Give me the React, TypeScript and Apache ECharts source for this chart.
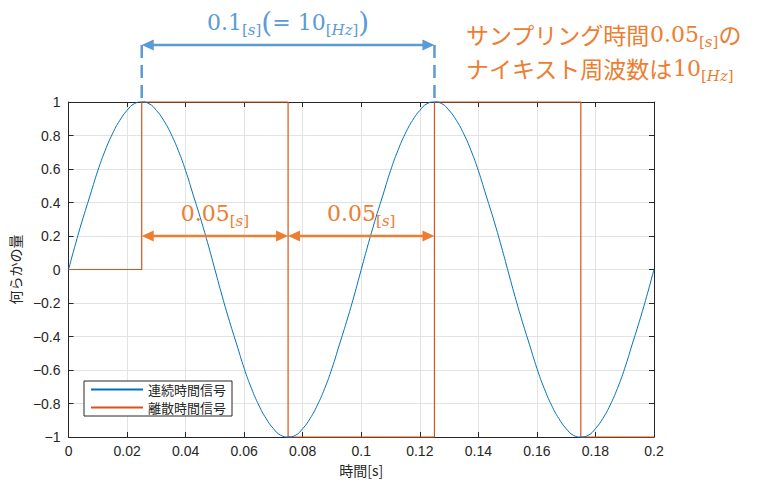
import { useRef, useEffect } from 'react'
import * as echarts from 'echarts'

// 連続時間信号（読み取り値）
const contTimes = [
  0, 0.0025, 0.005, 0.0075, 0.01, 0.0125, 0.015, 0.0175, 0.02, 0.0225,
  0.025, 0.0275, 0.03, 0.0325, 0.035, 0.0375, 0.04, 0.0425, 0.045, 0.0475,
  0.05, 0.0525, 0.055, 0.0575, 0.06, 0.0625, 0.065, 0.0675, 0.07, 0.0725,
  0.075, 0.0775, 0.08, 0.0825, 0.085, 0.0875, 0.09, 0.0925, 0.095, 0.0975,
  0.1, 0.1025, 0.105, 0.1075, 0.11, 0.1125, 0.115, 0.1175, 0.12, 0.1225,
  0.125, 0.1275, 0.13, 0.1325, 0.135, 0.1375, 0.14, 0.1425, 0.145, 0.1475,
  0.15, 0.1525, 0.155, 0.1575, 0.16, 0.1625, 0.165, 0.1675, 0.17, 0.1725,
  0.175, 0.1775, 0.18, 0.1825, 0.185, 0.1875, 0.19, 0.1925, 0.195, 0.1975, 0.2,
]
const contValues = [
  0, 0.16, 0.31, 0.45, 0.59, 0.71, 0.81, 0.89, 0.95, 0.99,
  1, 0.99, 0.95, 0.89, 0.81, 0.71, 0.59, 0.45, 0.31, 0.16,
  0, -0.16, -0.31, -0.45, -0.59, -0.71, -0.81, -0.89, -0.95, -0.99,
  -1, -0.99, -0.95, -0.89, -0.81, -0.71, -0.59, -0.45, -0.31, -0.16,
  0, 0.16, 0.31, 0.45, 0.59, 0.71, 0.81, 0.89, 0.95, 0.99,
  1, 0.99, 0.95, 0.89, 0.81, 0.71, 0.59, 0.45, 0.31, 0.16,
  0, -0.16, -0.31, -0.45, -0.59, -0.71, -0.81, -0.89, -0.95, -0.99,
  -1, -0.99, -0.95, -0.89, -0.81, -0.71, -0.59, -0.45, -0.31, -0.16, 0,
]

// 離散時間信号（ゼロ次ホールド）
const discTimes = [0, 0.025, 0.075, 0.125, 0.175, 0.2]
const discValues = [0, 1, -1, 1, -1, -1]

const seriesNames = ['連続時間信号', '離散時間信号']
const seriesColors = ['#0072BD', '#D95319']

// 注釈
const periodSpan = [0.025, 0.125]
const periodArrowY = 1.34
const sampleSpans = [
  [0.025, 0.075],
  [0.075, 0.125],
]
const sampleArrowY = 0.2

const BLUE = '#5B9BD5'
const ORANGE = '#ED7D31'
const AXIS = '#262626'
const MATH_FONT = '"DejaVu Serif", serif'
const JP_FONT = '"Noto Sans CJK JP", sans-serif'

const fmt = (v: number) => String(Math.round(v * 1000) / 1000).replace('-', '\u2212')

// 下付きの単位 [s] / [Hz]
const unit = (u: string) => `{b|[}{i|${u}}{b|]}`

export default function App() {
  const chartRef = useRef<HTMLDivElement>(null)

  useEffect(() => {
    if (!chartRef.current) return
    const chart = echarts.init(chartRef.current, undefined, { renderer: 'svg' })

    const axisCommon = {
      type: 'value' as const,
      axisLine: { show: true, onZero: false, lineStyle: { color: AXIS, width: 1 } },
      axisTick: { show: true, inside: true, length: 5, lineStyle: { color: AXIS } },
    }

    chart.setOption({
      animation: false,
      backgroundColor: '#fff',
      grid: { left: 66, right: 107, top: 102, bottom: 54 },
      legend: {
        orient: 'vertical',
        left: 84,
        top: 381,
        padding: [2, 6, 2, 6],
        itemGap: 5,
        itemWidth: 52,
        itemHeight: 14,
        itemTextGap: 5,
        borderColor: AXIS,
        borderWidth: 1,
        backgroundColor: '#fff',
        itemStyle: { opacity: 0 },
        textStyle: { color: AXIS, fontSize: 13, fontFamily: JP_FONT },
        data: seriesNames,
      },
      xAxis: [
        {
          ...axisCommon,
          min: 0,
          max: 0.2,
          interval: 0.02,
          name: '時間[s]',
          nameLocation: 'middle',
          nameGap: 26,
          nameTextStyle: { color: AXIS, fontSize: 14, fontFamily: JP_FONT },
          axisLabel: { color: AXIS, fontSize: 14, fontFamily: 'Liberation Sans', margin: 7, formatter: fmt },
          splitLine: { show: true, lineStyle: { color: '#e3e3e3', width: 1 } },
        },
        {
          ...axisCommon,
          position: 'top',
          min: 0,
          max: 0.2,
          interval: 0.02,
          axisLabel: { show: false },
          splitLine: { show: false },
        },
      ],
      yAxis: [
        {
          ...axisCommon,
          min: -1,
          max: 1,
          interval: 0.2,
          name: '何らかの量',
          nameLocation: 'middle',
          nameGap: 41,
          nameRotate: 90,
          nameTextStyle: { color: AXIS, fontSize: 14, fontFamily: JP_FONT },
          axisLabel: { color: AXIS, fontSize: 14, fontFamily: 'Liberation Sans', margin: 8, formatter: fmt },
          splitLine: { show: true, lineStyle: { color: '#e3e3e3', width: 1 } },
        },
        {
          ...axisCommon,
          position: 'right',
          min: -1,
          max: 1,
          interval: 0.2,
          axisLabel: { show: false },
          splitLine: { show: false },
        },
      ],
      series: [
        {
          name: seriesNames[0],
          type: 'line',
          data: contTimes.map((t, i) => [t, contValues[i]]),
          smooth: true,
          symbol: 'none',
          clip: false,
          lineStyle: { color: seriesColors[0], width: 1 },
          itemStyle: { color: seriesColors[0] },
          z: 3,
        },
        {
          name: seriesNames[1],
          type: 'line',
          data: discTimes.map((t, i) => [t, discValues[i]]),
          step: 'end',
          symbol: 'none',
          clip: false,
          lineStyle: { color: seriesColors[1], width: 1.2 },
          itemStyle: { color: seriesColors[1] },
          z: 2,
        },
      ],
    })

    // 注釈（座標はチャートのスケールから変換）
    const px = (x: number, y: number) => chart.convertToPixel({ gridIndex: 0 }, [x, y]) as number[]

    const arrow = (x1: number, x2: number, y: number, color: string) => {
      const [ax, ay] = px(x1, y)
      const [bx] = px(x2, y)
      const hl = 12
      const hw = 5.5
      return [
        { type: 'line', shape: { x1: ax + hl - 2, y1: ay, x2: bx - hl + 2, y2: ay }, style: { stroke: color, lineWidth: 2.5 }, z: 10 },
        { type: 'polygon', shape: { points: [[ax, ay], [ax + hl, ay - hw], [ax + hl, ay + hw]] }, style: { fill: color }, z: 10 },
        { type: 'polygon', shape: { points: [[bx, ay], [bx - hl, ay - hw], [bx - hl, ay + hw]] }, style: { fill: color }, z: 10 },
      ]
    }

    const mathRich = (color: string, lh = 30) => ({
      m: { fill: color, fontSize: 22, fontFamily: MATH_FONT, lineHeight: lh, verticalAlign: 'middle' },
      p: { fill: color, fontSize: 28, fontFamily: MATH_FONT, lineHeight: lh, verticalAlign: 'middle' },
      b: { fill: color, fontSize: 15, fontFamily: MATH_FONT, lineHeight: 15, verticalAlign: 'bottom', padding: [0, 0, (lh - 30) / 2, 0] },
      i: { fill: color, fontSize: 15, fontFamily: MATH_FONT, fontStyle: 'italic', lineHeight: 15, verticalAlign: 'bottom', padding: [0, 0, (lh - 30) / 2, 0] },
      j: { fill: color, fontSize: 23, fontFamily: JP_FONT, lineHeight: lh, verticalAlign: 'middle' },
    })

    const elements: any[] = []
    const plotTop = px(0, 1)[1]

    // 周期の矢印
    elements.push(...arrow(periodSpan[0], periodSpan[1], periodArrowY, BLUE))
    periodSpan.forEach((t) => {
      const [x, y] = px(t, periodArrowY)
      elements.push({
        type: 'line',
        shape: { x1: x, y1: y, x2: x, y2: plotTop - 2 },
        style: { stroke: BLUE, lineWidth: 2.5, lineDash: [13, 7] },
        z: 10,
      })
    })
    {
      const [, ay] = px(0, periodArrowY)
      const cx = px((periodSpan[0] + periodSpan[1]) / 2, 0)[0]
      elements.push({
        type: 'text',
        x: cx,
        y: ay - 23,
        style: {
          text: `{m|0.1}${unit('s')}{p|(}{m|= 10}${unit('Hz')}{p|)}`,
          rich: mathRich(BLUE),
          align: 'center',
          verticalAlign: 'middle',
        },
        z: 10,
      })
    }

    // サンプリング間隔の矢印
    sampleSpans.forEach(([a, b]) => {
      elements.push(...arrow(a, b, sampleArrowY, ORANGE))
      const [cx, ay] = px((a + b) / 2, sampleArrowY)
      elements.push({
        type: 'text',
        x: cx,
        y: ay - 23,
        style: {
          text: `{m|0.05}${unit('s')}`,
          rich: mathRich(ORANGE),
          align: 'center',
          verticalAlign: 'middle',
        },
        z: 10,
      })
    })

    // 右上の説明
    elements.push({
      type: 'text',
      x: 466,
      y: 17,
      style: {
        text: `{j|サンプリング時間}{m|0.05}${unit('s')}{j|の}\n{j|ナイキスト周波数は}{m|10}${unit('Hz')}`,
        rich: mathRich(ORANGE, 34),
        align: 'left',
        verticalAlign: 'top',
      },
      z: 10,
    })

    chart.setOption({ graphic: { elements } })

    return () => {
      chart.dispose()
    }
  }, [])

  return (
    <div
      ref={chartRef}
      style={{ position: 'fixed', left: 0, top: 0, width: 761, height: 491 }}
    />
  )
}
